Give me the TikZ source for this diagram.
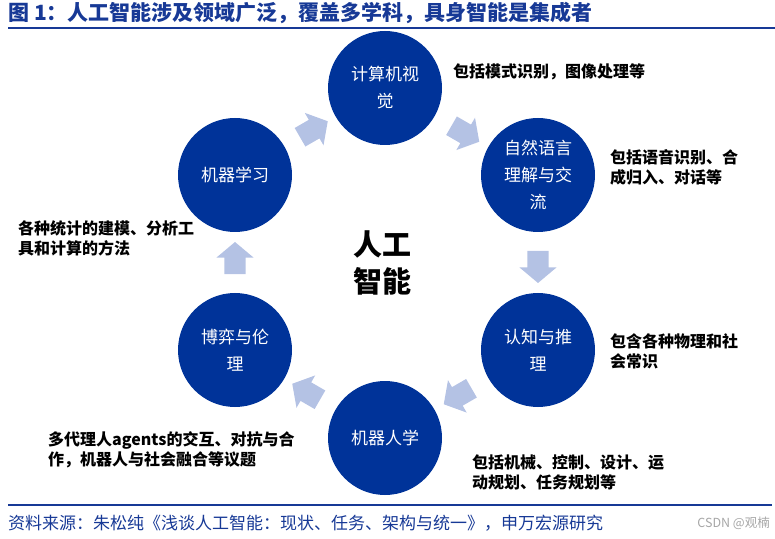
\documentclass[tikz,border=0pt]{standalone}
\usepackage{fontspec}
\setmainfont{Noto Sans CJK SC}
\usetikzlibrary{shapes.arrows, calc}

\definecolor{deepblue}{RGB}{0,51,153}
\definecolor{paleblue}{RGB}{180,194,228}
\definecolor{titleblue}{RGB}{23,57,150}

\tikzset{
  topic/.style={circle, fill=deepblue, minimum size=114pt, inner sep=0pt,
    text=white, align=center, font=\fontsize{17}{27}\selectfont},
  flow/.style={single arrow, fill=paleblue, draw=none, inner xsep=0pt,
    inner ysep=10.5pt, minimum height=32pt, single arrow head extend=8pt,
    single arrow tip angle=100},
  note/.style={anchor=west, align=left, inner sep=0pt,
    font=\bfseries\fontsize{16}{20}\selectfont},
}

\begin{document}
\begin{tikzpicture}[x=1pt,y=1pt]
\useasboundingbox (0,0) rectangle (775,538);

% title and rules
\node[anchor=west, inner sep=0pt, text=titleblue,
  font=\bfseries\fontsize{21}{24}\selectfont] (title) at (8,525)
  {图 1：人工智能涉及领域广泛，覆盖多学科，具身智能是集成者};
\coordinate (tl) at (8,509.5);
\coordinate (tr) at (775,509.5);
\draw[titleblue, line width=2pt] (tl) -- (tr);
\coordinate (fl) at (8,33);
\coordinate (fr) at (772,33);
\draw[titleblue, line width=1.5pt] (fl) -- (fr);

% center
\node[align=center, font=\bfseries\fontsize{29}{37}\selectfont] (ai) at (382,275) {人工\\智能};

% topics
\node[topic] (cv) at (385,450) {计算机视\\觉};
\node[topic] (nl) at (538,363) {自然语言\\理解与交\\流};
\node[topic] (rz) at (538,188) {认知与推\\理};
\node[topic] (jq) at (385,100) {机器人学};
\node[topic] (by) at (235,188) {博弈与伦\\理};
\node[topic] (jx) at (235,363) {机器学习};

% arrows between topics
\node[flow, rotate=-30] (a1) at ($(cv)!0.5!(nl)$) {};
\node[flow, rotate=-90] (a2) at ($(nl)!0.5!(rz)$) {};
\node[flow, rotate=-150] (a3) at ($(rz)!0.5!(jq)$) {};
\node[flow, rotate=150] (a4) at ($(jq)!0.5!(by)$) {};
\node[flow, rotate=90] (a5) at ($(by)!0.5!(jx)$) {};
\node[flow, rotate=30] (a6) at ($(jx)!0.5!(cv)$) {};

% notes
\node[note] (ncv) at (453,466) {包括模式识别，图像处理等};
\node[note] (nnl) at (610,371) {包括语音识别、合\\成归入、对话等};
\node[note] (nrz) at (610,187) {包含各种物理和社\\会常识};
\node[note] (njq) at (472,66) {包括机械、控制、设计、运\\动规划、任务规划等};
\node[note] (nby) at (48,88) {多代理人agents的交互、对抗与合\\作，机器人与社会融合等议题};
\node[note] (njx) at (18,300) {各种统计的建模、分析工\\具和计算的方法};

% footer
\node[anchor=west, inner sep=0pt, text=titleblue,
  font=\fontsize{17}{20}\selectfont] (src) at (8,15)
  {资料来源：朱松纯《浅谈人工智能：现状、任务、架构与统一》，申万宏源研究};
\node[anchor=east, inner sep=0pt, text=gray!70,
  font=\fontsize{12.5}{14}\selectfont] (csdn) at (770,15) {CSDN @观楠};
\end{tikzpicture}
\end{document}
